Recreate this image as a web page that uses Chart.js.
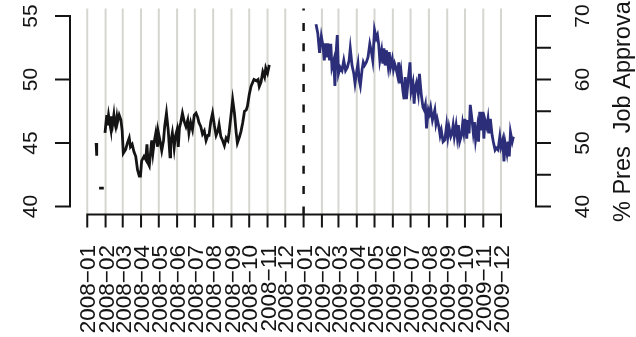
<!DOCTYPE html>
<html>
<head>
<meta charset="utf-8">
<style>
  html, body { margin: 0; padding: 0; background: #ffffff; }
  #wrap { width: 636px; height: 337px; }
</style>
<script src="https://cdn.jsdelivr.net/npm/chart.js@4.4.1/dist/chart.umd.min.js"></script>
</head>
<body>
<div id="wrap"><canvas id="chart" width="636" height="337"></canvas></div>
<script>
// Days counted from 2008-01-01; null values break the line.
const days2008 = [15, 16, 17, 20, 28, 29,
  30, 33, 34, 36, 38, 40, 41, 43, 45, 46, 48, 50, 51, 54, 57, 59, 61, 65, 68, 71, 73, 76, 79, 82,
  85, 88, 90, 92, 96, 99, 101, 103, 105, 107, 109, 111, 113, 116, 119, 120, 123, 126, 129, 131,
  134, 137, 140, 141, 144, 147, 149, 152, 154, 156, 158, 161, 164, 167, 170, 172, 175, 178, 181,
  184, 187, 189, 192, 195, 198, 201, 204, 206, 209, 212, 215, 218, 221, 223, 226, 229, 232, 235,
  238, 240, 243, 246, 249, 252, 254, 257, 260, 263, 266, 269, 271, 274, 277, 282, 286, 289, 291,
  294, 297, 300, 302, 305, 308];
const support2008 = [45.0, 44.0, null, 41.45, 41.45, null,
  45.8, 47.2, 46.4, 47.2, 46.6, 46.05, 47.1, 46.5, 47.2, 46.7, 46.3, 47.0, 46.6, 47.2, 46.8, 46.0, 44.2, 44.5, 45.0, 45.4, 44.7, 44.9, 44.3, 43.95,
  42.9, 42.4, 42.4, 43.6, 43.95, 43.7, 44.9, 43.4, 43.2, 44.2, 45.2, 44.2, 45.0, 45.8, 44.7, 45.9, 45.2, 44.4, 45.2, 46.3,
  47.35, 46.0, 43.9, 45.0, 45.8, 44.6, 45.5, 46.05, 44.7, 46.2, 46.57, 47.35, 46.7, 46.3, 46.8, 45.8, 46.6, 46.05, 47.2,
  47.35, 47.0, 46.6, 46.3, 45.7, 45.95, 45.2, 45.6, 45.6, 46.7, 47.35, 46.4, 45.6, 45.95, 46.45, 45.5, 45.2, 44.8, 45.4,
  45.2, 45.85, 47.1, 48.4, 47.35, 45.8, 45.0, 45.4, 45.9, 46.6, 47.5, 47.6, 47.9, 48.8, 49.45, 50.0, 49.9, 50.0, 49.45,
  49.8, 50.6, 50.2, 50.9, 50.5, 51.15];

const days2009 = [387, 390, 393, 396, 399, 401, 403, 405, 407, 410, 412, 414, 417, 419, 421, 423, 425, 428, 431, 434,
  437, 440, 443, 445, 448, 451, 453, 456, 458, 460, 462, 465, 467, 469, 472, 475, 478, 481, 483, 486,
  489, 491, 493, 495, 498, 500, 502, 504, 506, 509, 511, 513, 516, 518, 520, 522, 525, 527, 529, 531,
  534, 536, 538, 540, 543, 546, 548, 551, 553, 555, 557, 560, 562, 565, 568, 570, 572, 574, 577, 579,
  581, 584, 586, 588, 590, 592, 595, 597, 599, 602, 605, 608, 610, 612, 615, 617, 619, 621, 624, 626,
  628, 630, 633, 635, 637, 639, 642, 644, 646, 648, 651, 653, 655, 657, 660, 662, 664, 667, 669, 671,
  673, 676, 678, 680, 682, 685, 687, 690, 692, 695, 698, 700, 703, 705, 707, 710, 712, 714, 716, 719, 721];
const approval2009 = [68.7, 67.3, 64.2, 66.8, 65.2, 63.0, 65.7, 63.5, 65.7, 63.0, 65.6, 61.9, 63.0, 59.0, 64.2, 67.0, 60.9, 61.9, 61.4, 63.0,
  61.4, 61.9, 63.0, 64.9, 62.2, 60.9, 59.4, 61.4, 62.5, 59.9, 59.0, 61.6, 62.7, 62.2, 62.7, 63.5, 65.6, 64.2, 63.0, 67.8,
  66.5, 67.0, 65.6, 63.0, 64.6, 62.5, 64.9, 62.2, 64.6, 62.2, 64.3, 61.9, 63.2, 61.6, 62.5, 61.9, 60.6, 62.7, 59.4, 61.1,
  58.2, 56.9, 60.4, 56.9, 59.9, 62.7, 58.2, 59.5, 56.2, 58.8, 59.5, 57.7, 60.9, 57.7, 55.6, 55.2, 56.0, 52.3, 55.2, 54.6,
  55.6, 53.6, 54.4, 55.2, 53.0, 53.8, 52.5, 51.2, 52.0, 50.2, 50.5, 52.8, 51.0, 52.5, 51.0, 51.5, 52.8, 51.0, 52.8, 51.0,
  52.8, 50.2, 51.2, 53.0, 51.7, 53.8, 50.7, 53.6, 51.5, 56.0, 53.6, 51.7, 53.3, 50.5, 52.5, 50.2, 54.9, 52.0, 54.9, 50.7,
  53.6, 52.5, 53.8, 51.5, 53.8, 51.2, 50.2, 48.9, 49.2, 48.9, 51.0, 49.4, 50.5, 47.1, 50.0, 48.4, 50.2, 47.9, 51.7, 50.2, 51.0];

const monthLabels = ['2008\u221201', '2008\u221202', '2008\u221203', '2008\u221204', '2008\u221205', '2008\u221206',
  '2008\u221207', '2008\u221208', '2008\u221209', '2008\u221210', '2008\u221211', '2008\u221212',
  '2009\u221201', '2009\u221202', '2009\u221203', '2009\u221204', '2009\u221205', '2009\u221206',
  '2009\u221207', '2009\u221208', '2009\u221209', '2009\u221210', '2009\u221211', '2009\u221212'];
const leftTicks = [40, 45, 50, 55];
const rightTicks = [40, 45, 50, 55, 60, 65, 70];
const rightLabels = [40, 50, 60, 70];
const rightTitle = '% Pres  Job Approval';
const electionBreakLabel = '2009\u221201';

// month label -> days since 2008-01-01
function monthDay(label) {
  const [y, m] = label.split('\u2212').map(Number);
  return (Date.UTC(y, m - 1, 1) - Date.UTC(2008, 0, 1)) / 86400000;
}
function toPoints(xs, ys) {
  return xs.map((d, i) => ({ x: d, y: ys[i] }));
}

const FONT = '"Liberation Sans", Arial, Helvetica, sans-serif';
const INK = '#141414';

const axesPlugin = {
  id: 'rAxes',
  beforeDatasetsDraw(chart) {
    const { ctx, chartArea, scales } = chart;
    const x = scales.x;
    ctx.save();
    // light month grid
    ctx.strokeStyle = '#d6d6d0';
    ctx.lineWidth = 2;
    monthLabels.forEach(lab => {
      if (lab === electionBreakLabel) return;
      const px = x.getPixelForValue(monthDay(lab));
      ctx.beginPath();
      ctx.moveTo(px, chartArea.top);
      ctx.lineTo(px, chartArea.bottom);
      ctx.stroke();
    });
    // dashed separator at the start of 2009
    const bx = x.getPixelForValue(monthDay(electionBreakLabel));
    ctx.strokeStyle = INK;
    ctx.lineWidth = 2.5;
    ctx.setLineDash([8, 12.4]);
    ctx.beginPath();
    ctx.moveTo(bx, chartArea.bottom);
    ctx.lineTo(bx, chartArea.top);
    ctx.stroke();
    ctx.restore();
  },
  afterDatasetsDraw(chart) {
    const { ctx, chartArea, scales } = chart;
    const x = scales.x, yL = scales.yL, yR = scales.yR;
    ctx.save();
    ctx.strokeStyle = INK;
    ctx.fillStyle = INK;
    ctx.lineWidth = 2;
    ctx.lineCap = 'butt';

    // left axis
    const lx = chartArea.left;
    ctx.beginPath();
    ctx.moveTo(lx, yL.getPixelForValue(leftTicks[0]) + 1);
    ctx.lineTo(lx, yL.getPixelForValue(leftTicks[leftTicks.length - 1]) - 1);
    leftTicks.forEach(v => {
      const py = yL.getPixelForValue(v);
      ctx.moveTo(lx, py);
      ctx.lineTo(lx - 15, py);
    });
    ctx.stroke();
    ctx.font = '21px ' + FONT;
    ctx.textAlign = 'center';
    ctx.textBaseline = 'alphabetic';
    leftTicks.forEach(v => {
      ctx.save();
      ctx.translate(37, yL.getPixelForValue(v));
      ctx.rotate(-Math.PI / 2);
      ctx.fillText(String(v), 0, 0);
      ctx.restore();
    });

    // right axis
    const rx = chartArea.right;
    ctx.beginPath();
    ctx.moveTo(rx, yR.getPixelForValue(rightTicks[0]) + 1);
    ctx.lineTo(rx, yR.getPixelForValue(rightTicks[rightTicks.length - 1]) - 1);
    rightTicks.forEach(v => {
      const py = yR.getPixelForValue(v);
      ctx.moveTo(rx, py);
      ctx.lineTo(rx + 15, py);
    });
    ctx.stroke();
    rightLabels.forEach(v => {
      ctx.save();
      ctx.translate(589, yR.getPixelForValue(v));
      ctx.rotate(-Math.PI / 2);
      ctx.fillText(String(v), 0, 0);
      ctx.restore();
    });

    // right axis title
    ctx.save();
    ctx.font = '23.5px ' + FONT;
    ctx.textAlign = 'left';
    ctx.translate(630, 222);
    ctx.rotate(-Math.PI / 2);
    ctx.fillText(rightTitle, 0, 0);
    ctx.restore();

    // bottom axis
    const by = chartArea.bottom;
    const first = x.getPixelForValue(monthDay(monthLabels[0]));
    const last = x.getPixelForValue(monthDay(monthLabels[monthLabels.length - 1]));
    ctx.beginPath();
    ctx.moveTo(first - 1, by);
    ctx.lineTo(last + 1, by);
    monthLabels.forEach(lab => {
      const px = x.getPixelForValue(monthDay(lab));
      ctx.moveTo(px, by);
      ctx.lineTo(px, by + 13);
    });
    ctx.stroke();
    const fs = 22.5;
    ctx.font = fs + 'px ' + FONT;
    ctx.textAlign = 'right';
    monthLabels.forEach(lab => {
      const px = x.getPixelForValue(monthDay(lab));
      ctx.save();
      ctx.translate(px, 245);
      ctx.rotate(-Math.PI / 2);
      ctx.fillText(lab, 0, fs * 0.358);
      ctx.restore();
    });
    ctx.restore();
  }
};

new Chart(document.getElementById('chart'), {
  type: 'line',
  data: {
    datasets: [
      {
        label: '2008',
        data: toPoints(days2008, support2008),
        yAxisID: 'yL',
        borderColor: INK,
        borderWidth: 2.8,
        pointRadius: 0,
        tension: 0,
        spanGaps: false
      },
      {
        label: '2009',
        data: toPoints(days2009, approval2009),
        yAxisID: 'yR',
        borderColor: '#2c2e7a',
        borderWidth: 2.8,
        pointRadius: 0,
        tension: 0,
        spanGaps: false
      }
    ]
  },
  options: {
    responsive: false,
    animation: false,
    events: [],
    layout: { padding: { left: 70, right: 100, top: 8.5, bottom: 122.5 } },
    plugins: { legend: { display: false }, tooltip: { enabled: false } },
    scales: {
      x: { type: 'linear', display: false, min: -29.2, max: 759.2 },
      yL: { type: 'linear', display: false, position: 'left', min: 39.37, max: 55.59 },
      yR: { type: 'linear', display: false, position: 'right', min: 38.74, max: 71.18 }
    }
  },
  plugins: [axesPlugin]
});
</script>
</body>
</html>
